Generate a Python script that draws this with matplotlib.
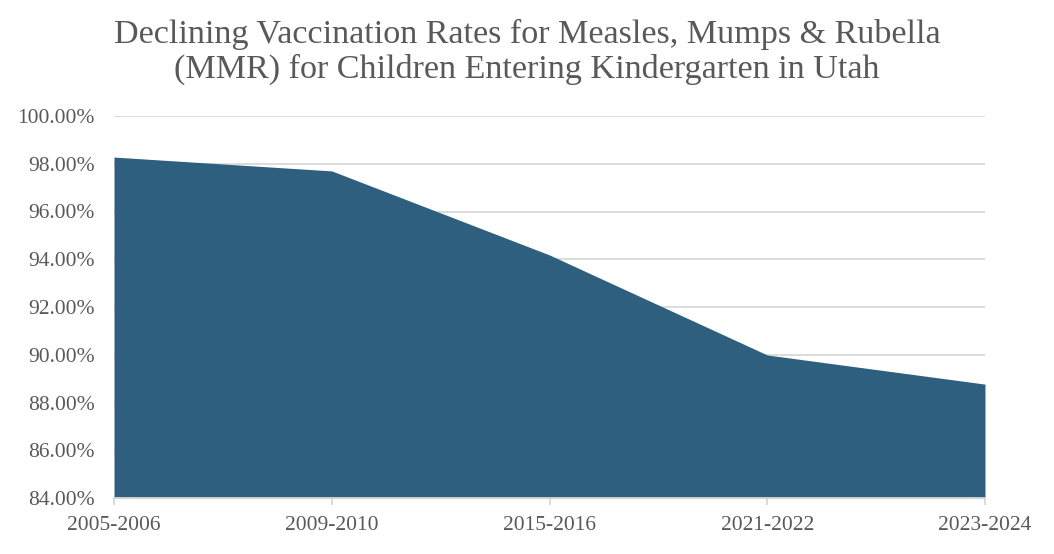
import matplotlib
matplotlib.use("Agg")
import matplotlib.pyplot as plt
from matplotlib.ticker import FuncFormatter

years = ["2005-2006", "2009-2010", "2015-2016", "2021-2022", "2023-2024"]
rates = [98.28, 97.70, 94.18, 89.99, 88.77]
yticks = [84, 86, 88, 90, 92, 94, 96, 98, 100]

plt.rcParams['font.family'] = ['Liberation Serif', 'DejaVu Serif']

fig = plt.figure(figsize=(10.54, 5.54), dpi=100)
ax = fig.add_axes([114/1054, 1-498/554, (985-114)/1054, (498-116)/554])

x = list(range(len(years)))
ax.fill_between(x, rates, 84, color="#2E5F7F", linewidth=0, zorder=2)

ax.set_xlim(0, len(years) - 1)
ax.set_ylim(84, 100)
ax.set_yticks(yticks)
ax.yaxis.set_major_formatter(FuncFormatter(lambda v, p: f"{v:.2f}%"))
ax.set_xticks(x)
ax.set_xticklabels(years)

ax.grid(axis='y', color="#D9D9D9", linewidth=1.3, zorder=0)
ax.set_axisbelow(True)
for s in ['top', 'right', 'left']:
    ax.spines[s].set_visible(False)
ax.spines['bottom'].set_color("#D9D9D9")
ax.spines['bottom'].set_linewidth(1.3)
ax.tick_params(axis='y', length=0, labelsize=15.5, labelcolor="#595959", pad=14)
ax.tick_params(axis='x', length=5, color="#D9D9D9", width=1.3, labelsize=15.5,
               labelcolor="#595959", pad=8)

fig.text(0.5, 1-52/554, "Declining Vaccination Rates for Measles, Mumps & Rubella\n(MMR) for Children Entering Kindergarten in Utah",
         ha='center', va='center', fontsize=24.6, color="#595959", linespacing=1.14)

fig.savefig("out.png", dpi=100)
